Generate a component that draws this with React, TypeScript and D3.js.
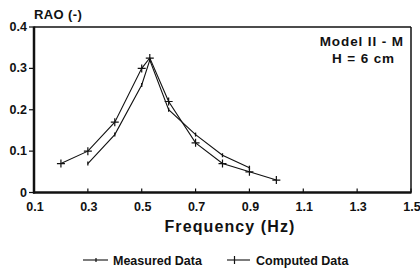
import React from 'react';
import * as d3 from 'd3';

const measuredFreq = [0.3, 0.4, 0.5, 0.53, 0.6, 0.7, 0.8, 0.9];
const measuredRao = [0.07, 0.14, 0.26, 0.32, 0.2, 0.14, 0.09, 0.06];
const computedFreq = [0.2, 0.3, 0.4, 0.5, 0.53, 0.6, 0.7, 0.8, 0.9, 1.0];
const computedRao = [0.07, 0.1, 0.17, 0.3, 0.325, 0.22, 0.12, 0.07, 0.05, 0.03];
const xTicks = [0.1, 0.3, 0.5, 0.7, 0.9, 1.1, 1.3, 1.5];
const yTicks = [0, 0.1, 0.2, 0.3, 0.4];

const W = 420;
const H = 269;
const font = 'Arial, "Liberation Sans", Helvetica, sans-serif';
const ink = '#111';

export default function App() {
  const x = d3.scaleLinear().domain([0.1, 1.5]).range([34, 411]);
  const y = d3.scaleLinear().domain([0, 0.4]).range([192.5, 27]);

  const line = d3.line<[number, number]>()
    .x(d => x(d[0]))
    .y(d => y(d[1]));

  const measured: [number, number][] = measuredFreq.map((f, i) => [f, measuredRao[i]]);
  const computed: [number, number][] = computedFreq.map((f, i) => [f, computedRao[i]]);

  const [x0, x1] = x.range();
  const [y0, y1] = y.range();

  return (
    <svg width={W} height={H} style={{position: 'absolute', left: 0, top: 0, background: '#fff'}}>
      {/* frame: heavier on left and bottom */}
      <line x1={x0} x2={x1} y1={y1} y2={y1} stroke={ink} strokeWidth={1.5} />
      <line x1={x1} x2={x1} y1={y1} y2={y0} stroke={ink} strokeWidth={1.5} />
      <line x1={x0} x2={x0} y1={y1 - 0.5} y2={y0 + 1} stroke={ink} strokeWidth={2.5} />
      <line x1={x0 - 1} x2={x1 + 0.5} y1={y0} y2={y0} stroke={ink} strokeWidth={2.5} />

      {/* y ticks point outward */}
      {yTicks.map(t => (
        <g key={'y' + t}>
          <line x1={x0 - 5} x2={x0} y1={y(t)} y2={y(t)} stroke={ink} strokeWidth={1.2} />
          <text x={x0 - 7} y={y(t) + 4} textAnchor="end" fontFamily={font} fontWeight="bold" fontSize={12.5} fill={ink}>
            {t === 0 ? '0' : d3.format('.1f')(t)}
          </text>
        </g>
      ))}

      {/* x ticks point inward */}
      {xTicks.map(t => (
        <g key={'x' + t}>
          <line x1={x(t)} x2={x(t)} y1={y0} y2={y0 - 4} stroke={ink} strokeWidth={1.2} />
          <text x={x(t) + 1} y={y0 + 18} textAnchor="middle" fontFamily={font} fontWeight="bold" fontSize={12.5} fill={ink}>
            {d3.format('.1f')(t)}
          </text>
        </g>
      ))}

      <text x={x0} y={19} fontFamily={font} fontWeight="bold" fontSize={13} letterSpacing={0.4} fill={ink}>RAO (-)</text>
      <text x={230} y={232} textAnchor="middle" fontFamily={font} fontWeight="bold" fontSize={16} letterSpacing={1.1} fill={ink}>
        Frequency (Hz)
      </text>

      <text x={404} y={46} textAnchor="end" fontFamily={font} fontWeight="bold" fontSize={13.5} letterSpacing={0.9} fill={ink}>Model II - M</text>
      <text x={395} y={63} textAnchor="end" fontFamily={font} fontWeight="bold" fontSize={13.5} letterSpacing={0.9} fill={ink}>H = 6 cm</text>

      {/* series */}
      <path d={line(measured) || ''} fill="none" stroke={ink} strokeWidth={1.1} />
      <path d={line(computed) || ''} fill="none" stroke={ink} strokeWidth={1.1} />
      {measured.map((d, i) => (
        <line key={'m' + i} x1={x(d[0])} x2={x(d[0])} y1={y(d[1]) - 2} y2={y(d[1]) + 2} stroke={ink} strokeWidth={1.3} />
      ))}
      {computed.map((d, i) => (
        <path key={'c' + i} d={`M${x(d[0]) - 4},${y(d[1])}h8M${x(d[0])},${y(d[1]) - 4}v8`} stroke={ink} strokeWidth={1.2} />
      ))}

      {/* legend */}
      <line x1={83} x2={108} y1={260} y2={260} stroke={ink} strokeWidth={1.1} />
      <line x1={96} x2={96} y1={258} y2={262} stroke={ink} strokeWidth={1.2} />
      <text x={113} y={265} fontFamily={font} fontWeight="bold" fontSize={12.5} fill={ink}>Measured Data</text>
      <line x1={227} x2={250} y1={260} y2={260} stroke={ink} strokeWidth={1.1} />
      <path d="M234.5,256v8" stroke={ink} strokeWidth={1.2} />
      <text x={256} y={265} fontFamily={font} fontWeight="bold" fontSize={12.5} fill={ink}>Computed Data</text>
    </svg>
  );
}
